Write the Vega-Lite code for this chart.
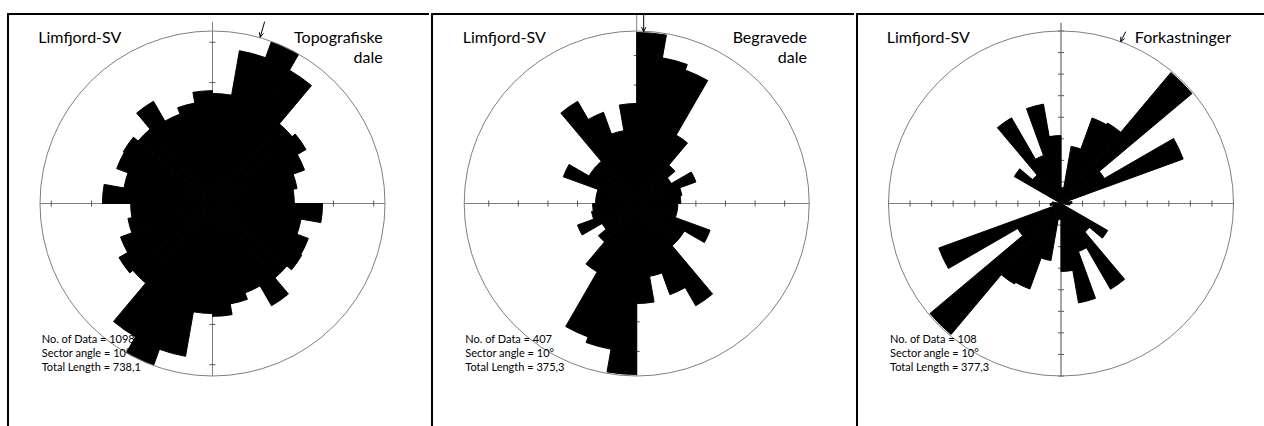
{
"$schema": "https://vega.github.io/schema/vega-lite/v6.json",
"padding": 0,
"spacing": 0,
"background": "white",
"config": {"view": {"stroke": null}},
"datasets": {
"sec": [
{"p":1,"a0":0,"a1":10,"r":2.73},{"p":1,"a0":10,"a1":20,"r":3.85},{"p":1,"a0":20,"a1":30,"r":4.27},{"p":1,"a0":30,"a1":40,"r":3.82},{"p":1,"a0":40,"a1":50,"r":2.58},{"p":1,"a0":50,"a1":60,"r":2.68},{"p":1,"a0":60,"a1":70,"r":2.43},{"p":1,"a0":70,"a1":80,"r":2.13},{"p":1,"a0":80,"a1":90,"r":2.03},{"p":1,"a0":90,"a1":100,"r":2.73},{"p":1,"a0":100,"a1":110,"r":2.23},{"p":1,"a0":110,"a1":120,"r":2.53},{"p":1,"a0":120,"a1":130,"r":2.56},{"p":1,"a0":130,"a1":140,"r":2.41},{"p":1,"a0":140,"a1":150,"r":2.93},{"p":1,"a0":150,"a1":160,"r":2.36},{"p":1,"a0":160,"a1":170,"r":2.53},{"p":1,"a0":170,"a1":180,"r":2.80},
{"p":1,"a0":180,"a1":190,"r":2.73},{"p":1,"a0":190,"a1":200,"r":3.85},{"p":1,"a0":200,"a1":210,"r":4.27},{"p":1,"a0":210,"a1":220,"r":3.82},{"p":1,"a0":220,"a1":230,"r":2.58},{"p":1,"a0":230,"a1":240,"r":2.68},{"p":1,"a0":240,"a1":250,"r":2.43},{"p":1,"a0":250,"a1":260,"r":2.13},{"p":1,"a0":260,"a1":270,"r":2.03},{"p":1,"a0":270,"a1":280,"r":2.73},{"p":1,"a0":280,"a1":290,"r":2.23},{"p":1,"a0":290,"a1":300,"r":2.53},{"p":1,"a0":300,"a1":310,"r":2.56},{"p":1,"a0":310,"a1":320,"r":2.41},{"p":1,"a0":320,"a1":330,"r":2.93},{"p":1,"a0":330,"a1":340,"r":2.36},{"p":1,"a0":340,"a1":350,"r":2.53},{"p":1,"a0":350,"a1":360,"r":2.80},
{"p":2,"a0":0,"a1":10,"r":5.78},{"p":2,"a0":10,"a1":20,"r":5.00},{"p":2,"a0":20,"a1":30,"r":4.80},{"p":2,"a0":30,"a1":40,"r":2.67},{"p":2,"a0":40,"a1":50,"r":1.69},{"p":2,"a0":50,"a1":60,"r":1.35},{"p":2,"a0":60,"a1":70,"r":2.13},{"p":2,"a0":70,"a1":80,"r":1.55},{"p":2,"a0":80,"a1":90,"r":1.49},{"p":2,"a0":90,"a1":100,"r":1.39},{"p":2,"a0":100,"a1":110,"r":1.39},{"p":2,"a0":110,"a1":120,"r":2.64},{"p":2,"a0":120,"a1":130,"r":1.86},{"p":2,"a0":130,"a1":140,"r":1.86},{"p":2,"a0":140,"a1":150,"r":3.99},{"p":2,"a0":150,"a1":160,"r":3.28},{"p":2,"a0":160,"a1":170,"r":2.50},{"p":2,"a0":170,"a1":180,"r":3.38},
{"p":2,"a0":180,"a1":190,"r":5.78},{"p":2,"a0":190,"a1":200,"r":5.00},{"p":2,"a0":200,"a1":210,"r":4.80},{"p":2,"a0":210,"a1":220,"r":2.67},{"p":2,"a0":220,"a1":230,"r":1.69},{"p":2,"a0":230,"a1":240,"r":1.35},{"p":2,"a0":240,"a1":250,"r":2.13},{"p":2,"a0":250,"a1":260,"r":1.55},{"p":2,"a0":260,"a1":270,"r":1.49},{"p":2,"a0":270,"a1":280,"r":1.39},{"p":2,"a0":280,"a1":290,"r":1.39},{"p":2,"a0":290,"a1":300,"r":2.64},{"p":2,"a0":300,"a1":310,"r":1.86},{"p":2,"a0":310,"a1":320,"r":1.86},{"p":2,"a0":320,"a1":330,"r":3.99},{"p":2,"a0":330,"a1":340,"r":3.28},{"p":2,"a0":340,"a1":350,"r":2.50},{"p":2,"a0":350,"a1":360,"r":3.38},
{"p":3,"a0":0,"a1":10,"r":0.74},{"p":3,"a0":10,"a1":20,"r":2.69},{"p":3,"a0":20,"a1":30,"r":4.22},{"p":3,"a0":30,"a1":40,"r":4.31},{"p":3,"a0":40,"a1":50,"r":7.93},{"p":3,"a0":50,"a1":60,"r":2.32},{"p":3,"a0":60,"a1":70,"r":6.03},{"p":3,"a0":70,"a1":80,"r":0.37},{"p":3,"a0":80,"a1":90,"r":0.51},{"p":3,"a0":90,"a1":100,"r":0.42},{"p":3,"a0":100,"a1":110,"r":0},{"p":3,"a0":110,"a1":120,"r":0},{"p":3,"a0":120,"a1":130,"r":2.50},{"p":3,"a0":130,"a1":140,"r":1.72},{"p":3,"a0":140,"a1":150,"r":4.59},{"p":3,"a0":150,"a1":160,"r":2.37},{"p":3,"a0":160,"a1":170,"r":4.68},{"p":3,"a0":170,"a1":180,"r":3.15},
{"p":3,"a0":180,"a1":190,"r":0.74},{"p":3,"a0":190,"a1":200,"r":2.69},{"p":3,"a0":200,"a1":210,"r":4.22},{"p":3,"a0":210,"a1":220,"r":4.31},{"p":3,"a0":220,"a1":230,"r":7.93},{"p":3,"a0":230,"a1":240,"r":2.32},{"p":3,"a0":240,"a1":250,"r":6.03},{"p":3,"a0":250,"a1":260,"r":0.37},{"p":3,"a0":260,"a1":270,"r":0.51},{"p":3,"a0":270,"a1":280,"r":0.42},{"p":3,"a0":280,"a1":290,"r":0},{"p":3,"a0":290,"a1":300,"r":0},{"p":3,"a0":300,"a1":310,"r":2.50},{"p":3,"a0":310,"a1":320,"r":1.72},{"p":3,"a0":320,"a1":330,"r":4.59},{"p":3,"a0":330,"a1":340,"r":2.37},{"p":3,"a0":340,"a1":350,"r":4.68},{"p":3,"a0":350,"a1":360,"r":3.15}
],
"circ": [
{"p":1,"a0":0,"a1":360,"r":4.28},{"p":2,"a0":0,"a1":360,"r":5.83},{"p":3,"a0":0,"a1":360,"r":8}
],
"geo": [
{"p":1,"k":"ax","x":-4.28,"y":0,"x2":4.28,"y2":0},{"p":1,"k":"ax","x":0,"y":-4.28,"x2":0,"y2":4.5108},
{"p":1,"k":"tk","x":-4,"y":-0.0744,"x2":-4,"y2":0.0744},{"p":1,"k":"tk","x":-3,"y":-0.0744,"x2":-3,"y2":0.0744},{"p":1,"k":"tk","x":-2,"y":-0.0744,"x2":-2,"y2":0.0744},{"p":1,"k":"tk","x":-1,"y":-0.0744,"x2":-1,"y2":0.0744},{"p":1,"k":"tk","x":1,"y":-0.0744,"x2":1,"y2":0.0744},{"p":1,"k":"tk","x":2,"y":-0.0744,"x2":2,"y2":0.0744},{"p":1,"k":"tk","x":3,"y":-0.0744,"x2":3,"y2":0.0744},{"p":1,"k":"tk","x":4,"y":-0.0744,"x2":4,"y2":0.0744},
{"p":1,"k":"tk","x":-0.0744,"y":-4,"x2":0.0744,"y2":-4},{"p":1,"k":"tk","x":-0.0744,"y":-3,"x2":0.0744,"y2":-3},{"p":1,"k":"tk","x":-0.0744,"y":-2,"x2":0.0744,"y2":-2},{"p":1,"k":"tk","x":-0.0744,"y":-1,"x2":0.0744,"y2":-1},{"p":1,"k":"tk","x":-0.0744,"y":1,"x2":0.0744,"y2":1},{"p":1,"k":"tk","x":-0.0744,"y":2,"x2":0.0744,"y2":2},{"p":1,"k":"tk","x":-0.0744,"y":3,"x2":0.0744,"y2":3},{"p":1,"k":"tk","x":-0.0744,"y":4,"x2":0.0744,"y2":4},
{"p":1,"k":"ar","x":1.2939,"y":4.5125,"x2":1.1833,"y2":4.1262},{"p":1,"k":"ar","x":1.1833,"y":4.1262,"x2":1.1639,"y2":4.2487},{"p":1,"k":"ar","x":1.1833,"y":4.1262,"x2":1.2646,"y2":4.2197},
{"p":1,"k":"bd","x":-5.0988,"y":4.7018,"x2":5.3717,"y2":4.7018},{"p":1,"k":"bd","x":-5.0740,"y":4.7266,"x2":-5.0740,"y2":-5.5206},
{"p":2,"k":"ax","x":-5.83,"y":0,"x2":5.83,"y2":0},{"p":2,"k":"ax","x":0,"y":-5.83,"x2":0,"y2":6.3708},
{"p":2,"k":"tk","x":-5,"y":-0.1014,"x2":-5,"y2":0.1014},{"p":2,"k":"tk","x":-4,"y":-0.1014,"x2":-4,"y2":0.1014},{"p":2,"k":"tk","x":-3,"y":-0.1014,"x2":-3,"y2":0.1014},{"p":2,"k":"tk","x":-2,"y":-0.1014,"x2":-2,"y2":0.1014},{"p":2,"k":"tk","x":-1,"y":-0.1014,"x2":-1,"y2":0.1014},{"p":2,"k":"tk","x":1,"y":-0.1014,"x2":1,"y2":0.1014},{"p":2,"k":"tk","x":2,"y":-0.1014,"x2":2,"y2":0.1014},{"p":2,"k":"tk","x":3,"y":-0.1014,"x2":3,"y2":0.1014},{"p":2,"k":"tk","x":4,"y":-0.1014,"x2":4,"y2":0.1014},{"p":2,"k":"tk","x":5,"y":-0.1014,"x2":5,"y2":0.1014},
{"p":2,"k":"tk","x":-0.1014,"y":-5,"x2":0.1014,"y2":-5},{"p":2,"k":"tk","x":-0.1014,"y":-4,"x2":0.1014,"y2":-4},{"p":2,"k":"tk","x":-0.1014,"y":-3,"x2":0.1014,"y2":-3},{"p":2,"k":"tk","x":-0.1014,"y":-2,"x2":0.1014,"y2":-2},{"p":2,"k":"tk","x":-0.1014,"y":-1,"x2":0.1014,"y2":-1},{"p":2,"k":"tk","x":-0.1014,"y":1,"x2":0.1014,"y2":1},{"p":2,"k":"tk","x":-0.1014,"y":2,"x2":0.1014,"y2":2},{"p":2,"k":"tk","x":-0.1014,"y":3,"x2":0.1014,"y2":3},{"p":2,"k":"tk","x":-0.1014,"y":4,"x2":0.1014,"y2":4},{"p":2,"k":"tk","x":-0.1014,"y":5,"x2":0.1014,"y2":5},
{"p":2,"k":"ar","x":0.2366,"y":6.3708,"x2":0.2366,"y2":5.8064},{"p":2,"k":"ar","x":0.2366,"y":5.8064,"x2":0.1653,"y2":5.9595},{"p":2,"k":"ar","x":0.2366,"y":5.8064,"x2":0.3079,"y2":5.9595},
{"p":2,"k":"bd","x":-6.9521,"y":6.4046,"x2":7.3442,"y2":6.4046},{"p":2,"k":"bd","x":-6.9183,"y":6.4384,"x2":-6.9183,"y2":-7.5199},
{"p":3,"k":"ax","x":-8,"y":0,"x2":8,"y2":0},{"p":3,"k":"av","x":0,"y":-8,"x2":0,"y2":8.3849},
{"p":3,"k":"tk","x":-8,"y":-0.1391,"x2":-8,"y2":0.1391},{"p":3,"k":"tk","x":-7,"y":-0.1391,"x2":-7,"y2":0.1391},{"p":3,"k":"tk","x":-6,"y":-0.1391,"x2":-6,"y2":0.1391},{"p":3,"k":"tk","x":-5,"y":-0.1391,"x2":-5,"y2":0.1391},{"p":3,"k":"tk","x":-4,"y":-0.1391,"x2":-4,"y2":0.1391},{"p":3,"k":"tk","x":-3,"y":-0.1391,"x2":-3,"y2":0.1391},{"p":3,"k":"tk","x":-2,"y":-0.1391,"x2":-2,"y2":0.1391},{"p":3,"k":"tk","x":-1,"y":-0.1391,"x2":-1,"y2":0.1391},{"p":3,"k":"tk","x":1,"y":-0.1391,"x2":1,"y2":0.1391},{"p":3,"k":"tk","x":2,"y":-0.1391,"x2":2,"y2":0.1391},{"p":3,"k":"tk","x":3,"y":-0.1391,"x2":3,"y2":0.1391},{"p":3,"k":"tk","x":4,"y":-0.1391,"x2":4,"y2":0.1391},{"p":3,"k":"tk","x":5,"y":-0.1391,"x2":5,"y2":0.1391},{"p":3,"k":"tk","x":6,"y":-0.1391,"x2":6,"y2":0.1391},{"p":3,"k":"tk","x":7,"y":-0.1391,"x2":7,"y2":0.1391},{"p":3,"k":"tk","x":8,"y":-0.1391,"x2":8,"y2":0.1391},
{"p":3,"k":"tk","x":-0.1391,"y":-8,"x2":0.1391,"y2":-8},{"p":3,"k":"tk","x":-0.1391,"y":-7,"x2":0.1391,"y2":-7},{"p":3,"k":"tk","x":-0.1391,"y":-6,"x2":0.1391,"y2":-6},{"p":3,"k":"tk","x":-0.1391,"y":-5,"x2":0.1391,"y2":-5},{"p":3,"k":"tk","x":-0.1391,"y":-4,"x2":0.1391,"y2":-4},{"p":3,"k":"tk","x":-0.1391,"y":-3,"x2":0.1391,"y2":-3},{"p":3,"k":"tk","x":-0.1391,"y":-2,"x2":0.1391,"y2":-2},{"p":3,"k":"tk","x":-0.1391,"y":-1,"x2":0.1391,"y2":-1},{"p":3,"k":"tk","x":-0.1391,"y":1,"x2":0.1391,"y2":1},{"p":3,"k":"tk","x":-0.1391,"y":2,"x2":0.1391,"y2":2},{"p":3,"k":"tk","x":-0.1391,"y":3,"x2":0.1391,"y2":3},{"p":3,"k":"tk","x":-0.1391,"y":4,"x2":0.1391,"y2":4},{"p":3,"k":"tk","x":-0.1391,"y":5,"x2":0.1391,"y2":5},{"p":3,"k":"tk","x":-0.1391,"y":6,"x2":0.1391,"y2":6},{"p":3,"k":"tk","x":-0.1391,"y":7,"x2":0.1391,"y2":7},{"p":3,"k":"tk","x":-0.1391,"y":8,"x2":0.1391,"y2":8},
{"p":3,"k":"ar","x":3.0006,"y":7.9675,"x2":2.7687,"y2":7.5038},{"p":3,"k":"ar","x":2.7687,"y":7.5038,"x2":2.7752,"y2":7.7357},{"p":3,"k":"ar","x":2.7687,"y":7.5038,"x2":2.9500,"y2":7.6480},
{"p":3,"k":"bd","x":-9.5072,"y":8.7884,"x2":9.6,"y2":8.7884},{"p":3,"k":"bd","x":-9.4609,"y":8.8348,"x2":-9.4609,"y2":-10.3188}
],
"txt": [
{"p":1,"k":"tl","x":-4.3222,"y":3.9699,"t":"Limfjord-SV"},{"p":1,"k":"tr","x":4.2230,"y":3.9699,"t":"Topografiske"},{"p":1,"k":"tr","x":4.2230,"y":3.4786,"t":"dale"},
{"p":1,"k":"st","x":-4.2378,"y":-3.4612,"t":"No. of Data = 1098"},{"p":1,"k":"st","x":-4.2378,"y":-3.8086,"t":"Sector angle = 10°"},{"p":1,"k":"st","x":-4.2378,"y":-4.1559,"t":"Total Length = 738,1"},
{"p":2,"k":"tl","x":-5.8808,"y":5.4144,"t":"Limfjord-SV"},{"p":2,"k":"tr","x":5.7557,"y":5.4144,"t":"Begravede"},{"p":2,"k":"tr","x":5.7557,"y":4.7384,"t":"dale"},
{"p":2,"k":"st","x":-5.7929,"y":-4.7147,"t":"No. of Data = 407"},{"p":2,"k":"st","x":-5.7929,"y":-5.1879,"t":"Sector angle = 10°"},{"p":2,"k":"st","x":-5.7929,"y":-5.6611,"t":"Total Length = 375,3"},
{"p":3,"k":"tl","x":-8.0835,"y":7.4296,"t":"Limfjord-SV"},{"p":3,"k":"tr","x":7.8841,"y":7.4296,"t":"Forkastninger"},
{"p":3,"k":"st","x":-7.9304,"y":-6.4696,"t":"No. of Data = 108"},{"p":3,"k":"st","x":-7.9304,"y":-7.1188,"t":"Sector angle = 10°"},{"p":3,"k":"st","x":-7.9304,"y":-7.7681,"t":"Total Length = 377,3"}
]
},
"hconcat": [
{
"width": 429, "height": 426,
"layer": [
{"data":{"name":"geo"},"transform":[{"filter":"datum.p==1 && datum.k=='ax'"}],"mark":{"type":"rule","color":"#7f7f7f","strokeWidth":1},
 "encoding":{"x":{"field":"x","type":"quantitative","scale":{"domain":[-5.2725,5.3717],"nice":false,"zero":false},"axis":null},"y":{"field":"y","type":"quantitative","scale":{"domain":[-5.5206,5.0492],"nice":false,"zero":false},"axis":null},"x2":{"field":"x2"},"y2":{"field":"y2"}}},
{"data":{"name":"geo"},"transform":[{"filter":"datum.p==1 && datum.k=='tk'"}],"mark":{"type":"rule","color":"#595959","strokeWidth":1},
 "encoding":{"x":{"field":"x","type":"quantitative","scale":{"domain":[-5.2725,5.3717],"nice":false,"zero":false},"axis":null},"y":{"field":"y","type":"quantitative","scale":{"domain":[-5.5206,5.0492],"nice":false,"zero":false},"axis":null},"x2":{"field":"x2"},"y2":{"field":"y2"}}},
{"data":{"name":"sec"},"transform":[{"filter":"datum.p==1"}],"mark":{"type":"arc","color":"black","stroke":"black","strokeWidth":1},
 "encoding":{"x":{"datum":0,"type":"quantitative","scale":{"domain":[-5.2725,5.3717],"nice":false,"zero":false},"axis":null},"y":{"datum":0,"type":"quantitative","scale":{"domain":[-5.5206,5.0492],"nice":false,"zero":false},"axis":null},
 "theta":{"field":"a0","type":"quantitative","stack":null,"scale":{"domain":[0,360],"range":[0,6.283185307179586]}},"theta2":{"field":"a1"},
 "radius":{"field":"r","type":"quantitative","scale":{"type":"linear","domain":[0,4.28],"range":[0,172.5]}}}},
{"data":{"name":"circ"},"transform":[{"filter":"datum.p==1"}],"mark":{"type":"arc","filled":false,"color":"#7f7f7f","strokeWidth":1},
 "encoding":{"x":{"datum":0,"type":"quantitative","scale":{"domain":[-5.2725,5.3717],"nice":false,"zero":false},"axis":null},"y":{"datum":0,"type":"quantitative","scale":{"domain":[-5.5206,5.0492],"nice":false,"zero":false},"axis":null},
 "theta":{"field":"a0","type":"quantitative","stack":null,"scale":{"domain":[0,360],"range":[0,6.283185307179586]}},"theta2":{"field":"a1"},
 "radius":{"field":"r","type":"quantitative","scale":{"type":"linear","domain":[0,4.28],"range":[0,172.5]}}}},
{"data":{"name":"geo"},"transform":[{"filter":"datum.p==1 && datum.k=='ar'"}],"mark":{"type":"rule","color":"black","strokeWidth":1},
 "encoding":{"x":{"field":"x","type":"quantitative","scale":{"domain":[-5.2725,5.3717],"nice":false,"zero":false},"axis":null},"y":{"field":"y","type":"quantitative","scale":{"domain":[-5.5206,5.0492],"nice":false,"zero":false},"axis":null},"x2":{"field":"x2"},"y2":{"field":"y2"}}},
{"data":{"name":"geo"},"transform":[{"filter":"datum.p==1 && datum.k=='bd'"}],"mark":{"type":"rule","color":"black","strokeWidth":2},
 "encoding":{"x":{"field":"x","type":"quantitative","scale":{"domain":[-5.2725,5.3717],"nice":false,"zero":false},"axis":null},"y":{"field":"y","type":"quantitative","scale":{"domain":[-5.5206,5.0492],"nice":false,"zero":false},"axis":null},"x2":{"field":"x2"},"y2":{"field":"y2"}}},
{"data":{"name":"txt"},"transform":[{"filter":"datum.p==1 && datum.k=='tl'"}],"mark":{"type":"text","align":"left","baseline":"alphabetic","font":"Lato","fontSize":16,"color":"black"},
 "encoding":{"x":{"field":"x","type":"quantitative","scale":{"domain":[-5.2725,5.3717],"nice":false,"zero":false},"axis":null},"y":{"field":"y","type":"quantitative","scale":{"domain":[-5.5206,5.0492],"nice":false,"zero":false},"axis":null},"text":{"field":"t"}}},
{"data":{"name":"txt"},"transform":[{"filter":"datum.p==1 && datum.k=='tr'"}],"mark":{"type":"text","align":"right","baseline":"alphabetic","font":"Lato","fontSize":16,"color":"black"},
 "encoding":{"x":{"field":"x","type":"quantitative","scale":{"domain":[-5.2725,5.3717],"nice":false,"zero":false},"axis":null},"y":{"field":"y","type":"quantitative","scale":{"domain":[-5.5206,5.0492],"nice":false,"zero":false},"axis":null},"text":{"field":"t"}}},
{"data":{"name":"txt"},"transform":[{"filter":"datum.p==1 && datum.k=='st'"}],"mark":{"type":"text","align":"left","baseline":"alphabetic","font":"Lato","fontSize":11,"color":"black"},
 "encoding":{"x":{"field":"x","type":"quantitative","scale":{"domain":[-5.2725,5.3717],"nice":false,"zero":false},"axis":null},"y":{"field":"y","type":"quantitative","scale":{"domain":[-5.5206,5.0492],"nice":false,"zero":false},"axis":null},"text":{"field":"t"}}}
]
},
{
"width": 423, "height": 426,
"layer": [
{"data":{"name":"geo"},"transform":[{"filter":"datum.p==2 && datum.k=='ax'"}],"mark":{"type":"rule","color":"#7f7f7f","strokeWidth":1},
 "encoding":{"x":{"field":"x","type":"quantitative","scale":{"domain":[-6.9521,7.3442],"nice":false,"zero":false},"axis":null},"y":{"field":"y","type":"quantitative","scale":{"domain":[-7.5199,6.8778],"nice":false,"zero":false},"axis":null},"x2":{"field":"x2"},"y2":{"field":"y2"}}},
{"data":{"name":"geo"},"transform":[{"filter":"datum.p==2 && datum.k=='tk'"}],"mark":{"type":"rule","color":"#595959","strokeWidth":1},
 "encoding":{"x":{"field":"x","type":"quantitative","scale":{"domain":[-6.9521,7.3442],"nice":false,"zero":false},"axis":null},"y":{"field":"y","type":"quantitative","scale":{"domain":[-7.5199,6.8778],"nice":false,"zero":false},"axis":null},"x2":{"field":"x2"},"y2":{"field":"y2"}}},
{"data":{"name":"sec"},"transform":[{"filter":"datum.p==2"}],"mark":{"type":"arc","color":"black","stroke":"black","strokeWidth":1},
 "encoding":{"x":{"datum":0,"type":"quantitative","scale":{"domain":[-6.9521,7.3442],"nice":false,"zero":false},"axis":null},"y":{"datum":0,"type":"quantitative","scale":{"domain":[-7.5199,6.8778],"nice":false,"zero":false},"axis":null},
 "theta":{"field":"a0","type":"quantitative","stack":null,"scale":{"domain":[0,360],"range":[0,6.283185307179586]}},"theta2":{"field":"a1"},
 "radius":{"field":"r","type":"quantitative","scale":{"type":"linear","domain":[0,5.83],"range":[0,172.5]}}}},
{"data":{"name":"circ"},"transform":[{"filter":"datum.p==2"}],"mark":{"type":"arc","filled":false,"color":"#7f7f7f","strokeWidth":1},
 "encoding":{"x":{"datum":0,"type":"quantitative","scale":{"domain":[-6.9521,7.3442],"nice":false,"zero":false},"axis":null},"y":{"datum":0,"type":"quantitative","scale":{"domain":[-7.5199,6.8778],"nice":false,"zero":false},"axis":null},
 "theta":{"field":"a0","type":"quantitative","stack":null,"scale":{"domain":[0,360],"range":[0,6.283185307179586]}},"theta2":{"field":"a1"},
 "radius":{"field":"r","type":"quantitative","scale":{"type":"linear","domain":[0,5.83],"range":[0,172.5]}}}},
{"data":{"name":"geo"},"transform":[{"filter":"datum.p==2 && datum.k=='ar'"}],"mark":{"type":"rule","color":"black","strokeWidth":1},
 "encoding":{"x":{"field":"x","type":"quantitative","scale":{"domain":[-6.9521,7.3442],"nice":false,"zero":false},"axis":null},"y":{"field":"y","type":"quantitative","scale":{"domain":[-7.5199,6.8778],"nice":false,"zero":false},"axis":null},"x2":{"field":"x2"},"y2":{"field":"y2"}}},
{"data":{"name":"geo"},"transform":[{"filter":"datum.p==2 && datum.k=='bd'"}],"mark":{"type":"rule","color":"black","strokeWidth":2},
 "encoding":{"x":{"field":"x","type":"quantitative","scale":{"domain":[-6.9521,7.3442],"nice":false,"zero":false},"axis":null},"y":{"field":"y","type":"quantitative","scale":{"domain":[-7.5199,6.8778],"nice":false,"zero":false},"axis":null},"x2":{"field":"x2"},"y2":{"field":"y2"}}},
{"data":{"name":"txt"},"transform":[{"filter":"datum.p==2 && datum.k=='tl'"}],"mark":{"type":"text","align":"left","baseline":"alphabetic","font":"Lato","fontSize":16,"color":"black"},
 "encoding":{"x":{"field":"x","type":"quantitative","scale":{"domain":[-6.9521,7.3442],"nice":false,"zero":false},"axis":null},"y":{"field":"y","type":"quantitative","scale":{"domain":[-7.5199,6.8778],"nice":false,"zero":false},"axis":null},"text":{"field":"t"}}},
{"data":{"name":"txt"},"transform":[{"filter":"datum.p==2 && datum.k=='tr'"}],"mark":{"type":"text","align":"right","baseline":"alphabetic","font":"Lato","fontSize":16,"color":"black"},
 "encoding":{"x":{"field":"x","type":"quantitative","scale":{"domain":[-6.9521,7.3442],"nice":false,"zero":false},"axis":null},"y":{"field":"y","type":"quantitative","scale":{"domain":[-7.5199,6.8778],"nice":false,"zero":false},"axis":null},"text":{"field":"t"}}},
{"data":{"name":"txt"},"transform":[{"filter":"datum.p==2 && datum.k=='st'"}],"mark":{"type":"text","align":"left","baseline":"alphabetic","font":"Lato","fontSize":11,"color":"black"},
 "encoding":{"x":{"field":"x","type":"quantitative","scale":{"domain":[-6.9521,7.3442],"nice":false,"zero":false},"axis":null},"y":{"field":"y","type":"quantitative","scale":{"domain":[-7.5199,6.8778],"nice":false,"zero":false},"axis":null},"text":{"field":"t"}}}
]
},
{
"width": 412, "height": 426,
"layer": [
{"data":{"name":"geo"},"transform":[{"filter":"datum.p==3 && datum.k=='ax'"}],"mark":{"type":"rule","color":"#7f7f7f","strokeWidth":1},
 "encoding":{"x":{"field":"x","type":"quantitative","scale":{"domain":[-9.5072,9.6],"nice":false,"zero":false},"axis":null},"y":{"field":"y","type":"quantitative","scale":{"domain":[-10.3188,9.4377],"nice":false,"zero":false},"axis":null},"x2":{"field":"x2"},"y2":{"field":"y2"}}},
{"data":{"name":"geo"},"transform":[{"filter":"datum.p==3 && datum.k=='av'"}],"mark":{"type":"rule","color":"#a6a6a6","strokeWidth":2},
 "encoding":{"x":{"field":"x","type":"quantitative","scale":{"domain":[-9.5072,9.6],"nice":false,"zero":false},"axis":null},"y":{"field":"y","type":"quantitative","scale":{"domain":[-10.3188,9.4377],"nice":false,"zero":false},"axis":null},"x2":{"field":"x2"},"y2":{"field":"y2"}}},
{"data":{"name":"geo"},"transform":[{"filter":"datum.p==3 && datum.k=='tk'"}],"mark":{"type":"rule","color":"#595959","strokeWidth":1},
 "encoding":{"x":{"field":"x","type":"quantitative","scale":{"domain":[-9.5072,9.6],"nice":false,"zero":false},"axis":null},"y":{"field":"y","type":"quantitative","scale":{"domain":[-10.3188,9.4377],"nice":false,"zero":false},"axis":null},"x2":{"field":"x2"},"y2":{"field":"y2"}}},
{"data":{"name":"sec"},"transform":[{"filter":"datum.p==3"}],"mark":{"type":"arc","color":"black","stroke":"black","strokeWidth":1},
 "encoding":{"x":{"datum":0,"type":"quantitative","scale":{"domain":[-9.5072,9.6],"nice":false,"zero":false},"axis":null},"y":{"datum":0,"type":"quantitative","scale":{"domain":[-10.3188,9.4377],"nice":false,"zero":false},"axis":null},
 "theta":{"field":"a0","type":"quantitative","stack":null,"scale":{"domain":[0,360],"range":[0,6.283185307179586]}},"theta2":{"field":"a1"},
 "radius":{"field":"r","type":"quantitative","scale":{"type":"linear","domain":[0,8],"range":[0,172.5]}}}},
{"data":{"name":"circ"},"transform":[{"filter":"datum.p==3"}],"mark":{"type":"arc","filled":false,"color":"#7f7f7f","strokeWidth":1},
 "encoding":{"x":{"datum":0,"type":"quantitative","scale":{"domain":[-9.5072,9.6],"nice":false,"zero":false},"axis":null},"y":{"datum":0,"type":"quantitative","scale":{"domain":[-10.3188,9.4377],"nice":false,"zero":false},"axis":null},
 "theta":{"field":"a0","type":"quantitative","stack":null,"scale":{"domain":[0,360],"range":[0,6.283185307179586]}},"theta2":{"field":"a1"},
 "radius":{"field":"r","type":"quantitative","scale":{"type":"linear","domain":[0,8],"range":[0,172.5]}}}},
{"data":{"name":"geo"},"transform":[{"filter":"datum.p==3 && datum.k=='ar'"}],"mark":{"type":"rule","color":"black","strokeWidth":1},
 "encoding":{"x":{"field":"x","type":"quantitative","scale":{"domain":[-9.5072,9.6],"nice":false,"zero":false},"axis":null},"y":{"field":"y","type":"quantitative","scale":{"domain":[-10.3188,9.4377],"nice":false,"zero":false},"axis":null},"x2":{"field":"x2"},"y2":{"field":"y2"}}},
{"data":{"name":"geo"},"transform":[{"filter":"datum.p==3 && datum.k=='bd'"}],"mark":{"type":"rule","color":"black","strokeWidth":2},
 "encoding":{"x":{"field":"x","type":"quantitative","scale":{"domain":[-9.5072,9.6],"nice":false,"zero":false},"axis":null},"y":{"field":"y","type":"quantitative","scale":{"domain":[-10.3188,9.4377],"nice":false,"zero":false},"axis":null},"x2":{"field":"x2"},"y2":{"field":"y2"}}},
{"data":{"name":"txt"},"transform":[{"filter":"datum.p==3 && datum.k=='tl'"}],"mark":{"type":"text","align":"left","baseline":"alphabetic","font":"Lato","fontSize":16,"color":"black"},
 "encoding":{"x":{"field":"x","type":"quantitative","scale":{"domain":[-9.5072,9.6],"nice":false,"zero":false},"axis":null},"y":{"field":"y","type":"quantitative","scale":{"domain":[-10.3188,9.4377],"nice":false,"zero":false},"axis":null},"text":{"field":"t"}}},
{"data":{"name":"txt"},"transform":[{"filter":"datum.p==3 && datum.k=='tr'"}],"mark":{"type":"text","align":"right","baseline":"alphabetic","font":"Lato","fontSize":16,"color":"black"},
 "encoding":{"x":{"field":"x","type":"quantitative","scale":{"domain":[-9.5072,9.6],"nice":false,"zero":false},"axis":null},"y":{"field":"y","type":"quantitative","scale":{"domain":[-10.3188,9.4377],"nice":false,"zero":false},"axis":null},"text":{"field":"t"}}},
{"data":{"name":"txt"},"transform":[{"filter":"datum.p==3 && datum.k=='st'"}],"mark":{"type":"text","align":"left","baseline":"alphabetic","font":"Lato","fontSize":11,"color":"black"},
 "encoding":{"x":{"field":"x","type":"quantitative","scale":{"domain":[-9.5072,9.6],"nice":false,"zero":false},"axis":null},"y":{"field":"y","type":"quantitative","scale":{"domain":[-10.3188,9.4377],"nice":false,"zero":false},"axis":null},"text":{"field":"t"}}}
]
}
]
}
